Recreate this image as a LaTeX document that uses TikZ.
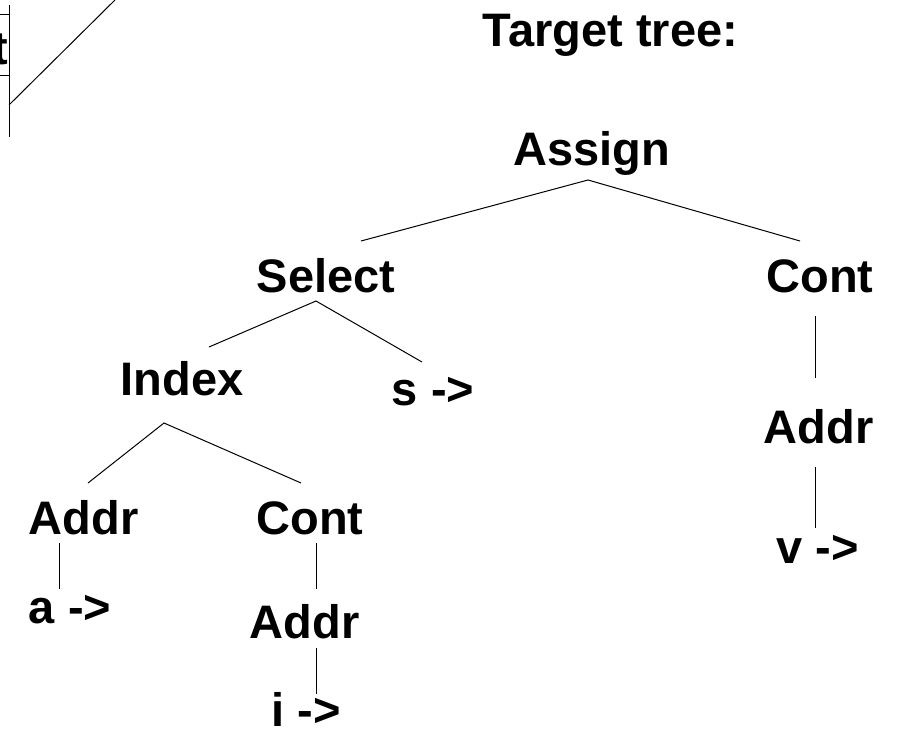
\documentclass[tikz,border=0pt]{standalone}
\usepackage{fontspec}
\setmainfont{Liberation Sans}
\begin{document}
\begin{tikzpicture}[x=1pt,y=-1pt,
  lbl/.style={font=\fontsize{47}{56}\selectfont\bfseries, inner sep=0pt, anchor=base},
  edge/.style={draw=black, line width=1pt}]
\clip (0,0) rectangle (899,733);
\fill[white] (0,0) rectangle (899,733);
% fragment of a table at top-left
\coordinate (tv1) at (9,5);
\coordinate (tv2) at (9,137);
\coordinate (th1a) at (0,15);
\coordinate (th1b) at (9,15);
\coordinate (th2a) at (0,76);
\coordinate (th2b) at (9,76);
\coordinate (d1) at (9,105);
\coordinate (d2) at (115,0);
\draw[edge] (tv1) -- (tv2);
\draw[edge] (th1a) -- (th1b);
\draw[edge] (th2a) -- (th2b);
\draw[edge] (d1) -- (d2);
\node[lbl, anchor=base east] (tcut) at (8.5,65) {t};
% title
\node[lbl] (title) at (610.5,47) {Target tree:};
% tree nodes
\node[lbl] (assign) at (591.5,165) {Assign};
\node[lbl] (select) at (326,292) {Select};
\node[lbl] (contR) at (820,292) {Cont};
\node[lbl] (index) at (182,395) {Index};
\node[lbl] (s) at (433,405) {s ->};
\node[lbl] (addrR) at (818.5,443) {Addr};
\node[lbl] (v) at (817.5,563) {v ->};
\node[lbl] (addrL) at (83.5,534) {Addr};
\node[lbl] (contM) at (310,534) {Cont};
\node[lbl] (a) at (70,623) {a ->};
\node[lbl] (addrM) at (304.5,638) {Addr};
\node[lbl] (i) at (306,726.5) {i ->};
% connector end points
\coordinate (assignApex) at (588,180);
\coordinate (selectTop) at (361,241);
\coordinate (contRTop) at (800,241);
\coordinate (selectApex) at (316,301);
\coordinate (indexTop) at (209,347);
\coordinate (sTop) at (422,362);
\coordinate (indexApex) at (164,423);
\coordinate (addrLTop) at (88,483);
\coordinate (contMTop) at (301,483);
\coordinate (contRBot) at (815,316);
\coordinate (addrRTop) at (815,378);
\coordinate (addrRBot) at (815,467);
\coordinate (vTop) at (815,528);
\coordinate (addrLBot) at (59,543);
\coordinate (aTop) at (59,589);
\coordinate (contMBot) at (316,543);
\coordinate (addrMTop) at (316,589);
\coordinate (addrMBot) at (316,648);
\coordinate (iTop) at (316,694);
% connectors
\draw[edge] (selectTop) -- (assignApex) -- (contRTop);
\draw[edge] (indexTop) -- (selectApex) -- (sTop);
\draw[edge] (addrLTop) -- (indexApex) -- (contMTop);
\draw[edge] (contRBot) -- (addrRTop);
\draw[edge] (addrRBot) -- (vTop);
\draw[edge] (addrLBot) -- (aTop);
\draw[edge] (contMBot) -- (addrMTop);
\draw[edge] (addrMBot) -- (iTop);
\end{tikzpicture}
\end{document}
